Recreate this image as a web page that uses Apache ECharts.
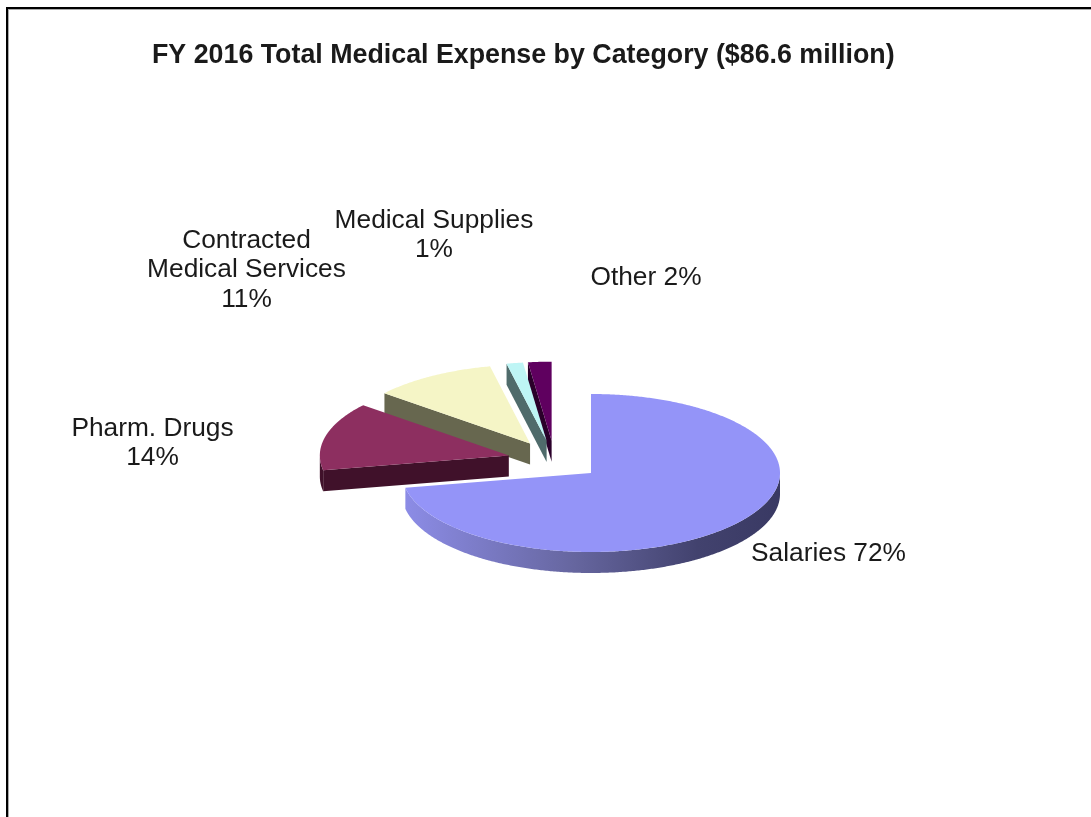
<!DOCTYPE html>
<html><head><meta charset="utf-8">
<style>html,body{margin:0;padding:0;background:#fff;overflow:hidden}#c{width:1091px;height:817px}</style>
<script src="https://cdn.jsdelivr.net/npm/echarts@6/dist/echarts.min.js"></script>
</head><body><div id="c"></div>
<script>
const categories = ["Salaries","Pharm. Drugs","Contracted Medical Services","Medical Supplies","Other"];
const values = [72, 14, 10.6, 1.4, 2];
const labelTexts = ["Salaries 72%","Pharm. Drugs\n14%","Contracted\nMedical Services\n11%","Medical Supplies\n1%","Other 2%"];
const labelCenters = [[828.5,554],[152.5,443],[246.5,270],[434,235],[646,278]];
const topColors = ["#9494F8","#8D2F60","#F5F5C6","#BEF5F5","#5F005F"];
const edgeColors = ["#6E6EB8","#40112A","#67674F","#4F6B6B","#2A002A"];
const stackOrder = [50,40,30,20,10];
const pieCenter = [554.6, 460.4], rx = 189, ry = 79, depth = 21, explode = 0.25;

const total = values.reduce((a,b)=>a+b,0);
const rad = d => d*Math.PI/180;
const pt = (c,deg,dy=0) => [c[0]+rx*Math.sin(rad(deg)), c[1]-ry*Math.cos(rad(deg))+dy];
const arc = (c,a,b,dy=0) => { const out=[]; const n=Math.max(2,Math.ceil(Math.abs(b-a)*2));
  for(let i=0;i<=n;i++) out.push(pt(c,a+(b-a)*i/n,dy)); return out; };

function renderItem(params, api){
  const i = params.dataIndex, v = api.value(0);
  let before = 0; for(let k=0;k<i;k++) before += values[k];
  const a0 = before/total*360, a1 = (before+v)/total*360, mid=(a0+a1)/2;
  const c = [pieCenter[0]+explode*rx*Math.sin(rad(mid)), pieCenter[1]-explode*ry*Math.cos(rad(mid))];
  const base = stackOrder[i];
  const kids = [];
  if(a0>180){
    const p = pt(c,a0);
    kids.push({type:'polygon',z2:base,shape:{points:[c,p,[p[0],p[1]+depth],[c[0],c[1]+depth]]},style:{fill:edgeColors[i]}});
  }
  const f0=Math.max(a0,90), f1=Math.min(a1,270);
  if(f1>f0){
    const top=arc(c,f0,f1), bot=arc(c,f1,f0,depth);
    const fill = i===0 ? {type:'linear',x:1,y:0,x2:0,y2:0,colorStops:[{offset:0,color:'#393963'},{offset:.22,color:'#42426E'},{offset:.55,color:'#66669F'},{offset:1,color:'#8C8CE6'}]} : edgeColors[i];
    kids.push({type:'polygon',z2:base+1,shape:{points:top.concat(bot)},style:{fill}});
  }
  kids.push({type:'polygon',z2:base+2,shape:{points:[c].concat(arc(c,a0,a1))},style:{fill:topColors[i]}});
  kids.push({type:'text',z2:100,style:{x:labelCenters[i][0],y:labelCenters[i][1],text:labelTexts[i],
    fill:'#1a1a1a',font:'26.3px "Liberation Sans"',lineHeight:29.5,align:'center',verticalAlign:'middle'}});
  return {type:'group',children:kids};
}

const chart = echarts.init(document.getElementById('c'),null,{width:1091,height:817});
chart.setOption({
  animation:false,
  backgroundColor:'#fff',
  title:{text:'FY 2016 Total Medical Expense by Category ($86.6 million)',left:147,top:37,
    textStyle:{fontFamily:'Liberation Sans',fontWeight:'bold',fontSize:26.8,color:'#1a1a1a'}},
  graphic:[
    {type:'rect',z:1,shape:{x:6,y:7,width:1085,height:2},style:{fill:'#000'}},
    {type:'rect',z:1,shape:{x:6,y:7,width:2,height:810},style:{fill:'#000'}},
    {type:'rect',z:1,shape:{x:8,y:9,width:1083,height:1},style:{fill:'#aaa'}},
    {type:'rect',z:1,shape:{x:8,y:9,width:1,height:808},style:{fill:'#aaa'}}
  ],
  series:[{type:'custom',coordinateSystem:'none',renderItem,silent:true,
    data:values.map((v,i)=>({name:categories[i],value:[v]}))}]
});
</script></body></html>
